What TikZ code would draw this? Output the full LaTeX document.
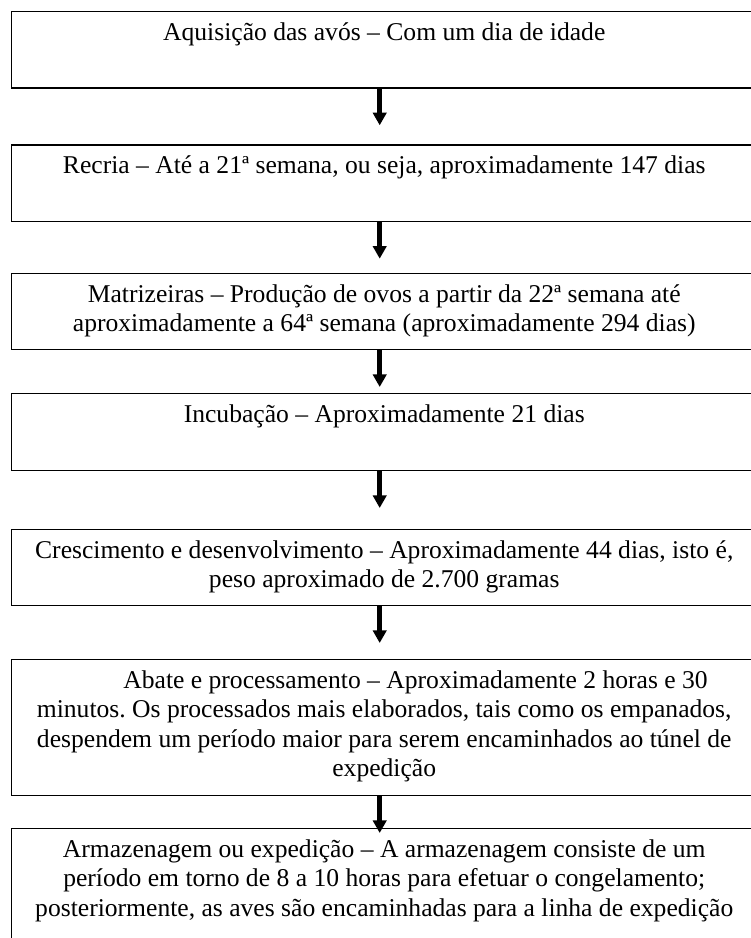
\documentclass[tikz,border=0pt]{standalone}
\usepackage{fontspec}
\setmainfont{Liberation Serif}
\usetikzlibrary{arrows.meta}
\frenchspacing

% texto de cada etapa, alinhado ao topo da caixa
\newcommand{\caixa}[2]{\parbox[t][#1][t]{558.75pt}{\vspace*{6pt}\centering\strut #2}}

\tikzset{
  etapa/.style={draw, line width=1.1pt, inner sep=0pt, anchor=north west,
    font=\fontsize{19.2}{22.1}\selectfont},
  seta/.style={-{Triangle[length=9.5pt,width=10pt]}, line width=3.6pt}
}

\begin{document}
\begin{tikzpicture}[x=0.75pt,y=0.75pt]
  \useasboundingbox (0,0) rectangle (750,-938);
  \node[etapa] (aquisicao) at (11,-10.7) {\caixa{57.4pt}{Aquisição das avós – Com um dia de idade}};
  \node[etapa] (recria) at (11,-144.3) {\caixa{57.3pt}{Recria – Até a 21ª semana, ou seja, aproximadamente 147 dias}};
  \node[etapa] (matrizeiras) at (11,-272.7) {\caixa{57.2pt}{Matrizeiras – Produção de ovos a partir da 22ª semana até\\
    aproximadamente a 64ª semana (aproximadamente 294 dias)}};
  \node[etapa] (incubacao) at (11,-393) {\caixa{57.75pt}{Incubação – Aproximadamente 21 dias}};
  \node[etapa] (crescimento) at (11,-529) {\caixa{57pt}{Crescimento e desenvolvimento – Aproximadamente 44 dias, isto é,\\
    peso aproximado de 2.700 gramas}};
  \node[etapa] (abate) at (11,-659) {\caixa{102pt}{\hspace*{47pt}Abate e processamento – Aproximadamente 2 horas e 30\\
    minutos. Os processados mais elaborados, tais como os empanados,\\
    despendem um período maior para serem encaminhados ao túnel de\\
    expedição}};
  \node[etapa] (armazenagem) at (11,-828) {\caixa{90pt}{Armazenagem ou expedição – A armazenagem consiste de um\\
    período em torno de 8 a 10 horas para efetuar o congelamento;\\
    posteriormente, as aves são encaminhadas para a linha de expedição}};

  \draw[seta, shorten >=14.25pt] ([xshift=-3.4pt]aquisicao.south) -- ([xshift=-3.4pt]recria.north);
  \draw[seta, shorten >=10.5pt] ([xshift=-3.4pt]recria.south) -- ([xshift=-3.4pt]matrizeiras.north);
  \draw[seta, shorten >=4.5pt] ([xshift=-3.4pt]matrizeiras.south) -- ([xshift=-3.4pt]incubacao.north);
  \draw[seta, shorten >=15.75pt] ([xshift=-3.4pt]incubacao.south) -- ([xshift=-3.4pt]crescimento.north);
  \draw[seta, shorten >=12pt] ([xshift=-3.4pt]crescimento.south) -- ([xshift=-3.4pt]abate.north);
  \draw[seta, shorten >=-3.75pt] ([xshift=-3.4pt]abate.south) -- ([xshift=-3.4pt]armazenagem.north);
\end{tikzpicture}
\end{document}
